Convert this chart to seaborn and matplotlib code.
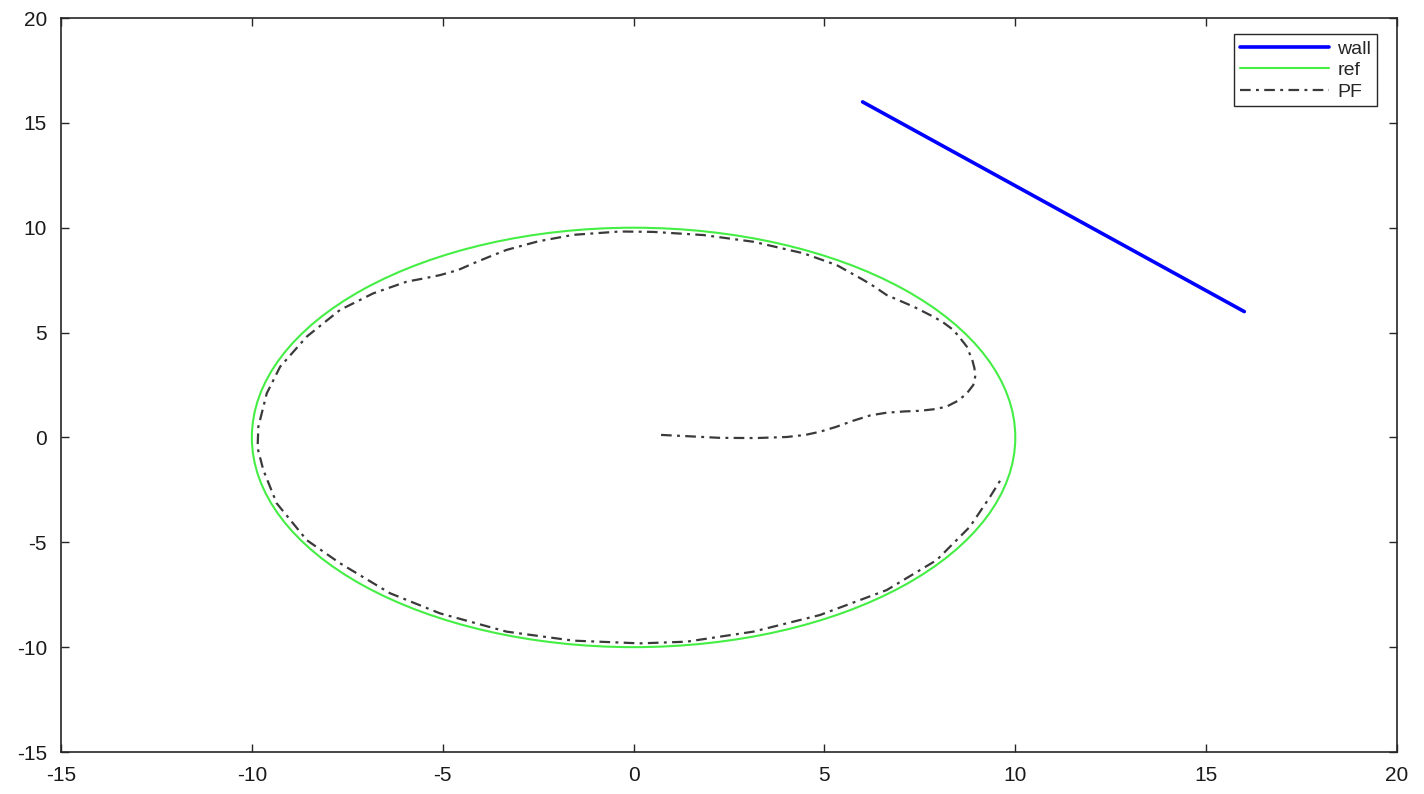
import numpy as np
import pandas as pd
import seaborn as sns
import matplotlib.pyplot as plt
from matplotlib.patches import Circle
from matplotlib.lines import Line2D

# wall segment end points
wall_x = [6, 16]
wall_y = [16, 6]

# reference trajectory: circle
ref_center = (0, 0)
ref_radius = 10

# particle filter estimate
pf_x = [0.72, 1.5, 2.26, 3.2, 4.01, 4.5, 4.88, 5.3, 5.76, 6.2, 6.63, 7.1, 7.5, 7.9,
        8.2, 8.5, 8.73, 8.9, 8.95, 8.93, 8.88, 8.73, 8.55, 8.38, 8.1, 7.85, 7.33,
        6.63, 6.3, 6.02, 5.32, 4.45, 3.14, 1.83, 0.52, -0.35, -1.58, -2.5, -3.33,
        -3.8, -4.2, -4.6, -5.07, -5.5, -5.94, -6.82, -7.69, -8.56, -9.26, -9.61,
        -9.83, -9.85, -9.70, -9.35, -8.56, -7.69, -6.38, -5.07, -3.33, -1.58, 0.17,
        1.39, 3.14, 4.88, 6.63, 7.94, 8.81, 9.34, 9.64]
pf_y = [0.12, 0.05, -0.02, -0.03, 0.02, 0.12, 0.27, 0.5, 0.8, 1.05, 1.18, 1.24, 1.27,
        1.35, 1.47, 1.75, 2.1, 2.5, 2.9, 3.3, 3.65, 4.33, 4.75, 5.12, 5.5, 5.76, 6.24,
        6.79, 7.2, 7.51, 8.22, 8.78, 9.33, 9.65, 9.80, 9.82, 9.66, 9.35, 8.94, 8.6,
        8.30, 7.98, 7.74, 7.58, 7.43, 6.87, 6.08, 4.81, 3.37, 2.10, 0.51, -0.5, -1.55,
        -3.14, -4.90, -6.0, -7.43, -8.39, -9.26, -9.69, -9.82, -9.74, -9.26, -8.47,
        -7.28, -5.85, -4.26, -2.83, -1.95]

sns.set_style("ticks")
plt.rcParams['font.family'] = ['Liberation Sans', 'DejaVu Sans']
plt.rcParams['axes.unicode_minus'] = False
plt.rcParams['xtick.direction'] = 'in'
plt.rcParams['ytick.direction'] = 'in'

fig = plt.figure(figsize=(14.24, 7.94), dpi=100)
ax = fig.add_axes([61 / 1424, 1 - 752 / 794, (1397 - 61) / 1424, (752 - 18) / 794])

wall_col = '#0000ff'
ref_col = '#44ee44'
pf_col = '#3a3a3a'
pf_dash = (0, (4.8, 2.4, 1.3, 2.4))

df_wall = pd.DataFrame({'x': wall_x, 'y': wall_y})
sns.lineplot(data=df_wall, x='x', y='y', sort=False, estimator=None,
             color=wall_col, linewidth=2.6, ax=ax)

ax.add_patch(Circle(ref_center, ref_radius, fill=False, edgecolor=ref_col, linewidth=1.5))

df_pf = pd.DataFrame({'x': pf_x, 'y': pf_y})
sns.lineplot(data=df_pf, x='x', y='y', sort=False, estimator=None,
             color=pf_col, linewidth=1.6, linestyle=pf_dash, ax=ax)

ax.set_xlim(-15, 20)
ax.set_ylim(-15, 20)
ax.set_xticks(np.arange(-15, 21, 5))
ax.set_yticks(np.arange(-15, 21, 5))
ax.set_xlabel('')
ax.set_ylabel('')
ax.tick_params(axis='both', which='both', top=True, right=True, length=6, width=1,
               color='#262626', labelsize=15, pad=10, labelcolor='#1a1a1a')
for s in ax.spines.values():
    s.set_visible(True)
    s.set_linewidth(1.2)
    s.set_color('#262626')

handles = [Line2D([], [], color=wall_col, linewidth=2.6),
           Line2D([], [], color=ref_col, linewidth=1.5),
           Line2D([], [], color=pf_col, linewidth=1.6, linestyle=pf_dash)]
leg = ax.legend(handles, ['wall', 'ref', 'PF'], loc='upper right',
                bbox_to_anchor=(0.985, 0.978), borderaxespad=0, fontsize=14,
                handlelength=4.6, handletextpad=0.4, labelspacing=0.2,
                fancybox=False, framealpha=1, edgecolor='#262626',
                borderpad=0.3)
leg.get_frame().set_linewidth(1.0)

fig.savefig('out.png', dpi=100)
